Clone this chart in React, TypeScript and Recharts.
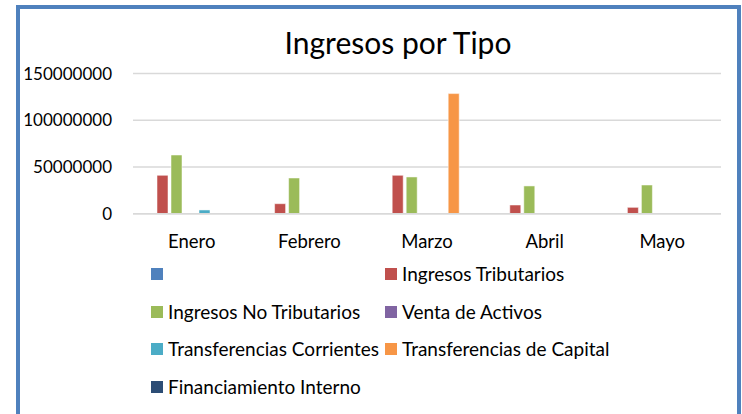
import { Bar, BarChart, CartesianGrid, XAxis, YAxis } from "recharts";

const months = ["Enero", "Febrero", "Marzo", "Abril", "Mayo"];

// values per month, null where there is no bar
const sinNombre = [null, null, null, null, null];
const tributarios = [41100000, 10700000, 41100000, 9300000, 6800000];
const noTributarios = [62800000, 38200000, 39300000, 29700000, 30700000];
const ventaActivos = [null, null, null, null, null];
const corrientes = [4000000, null, null, null, 400000];
const capital = [null, null, 128500000, null, null];
const financiamiento = [null, null, null, null, null];

const yTicks = [0, 50000000, 100000000, 150000000];

const series = [
  { key: "s0", name: "", color: "#4F81BD", values: sinNombre },
  { key: "s1", name: "Ingresos Tributarios", color: "#C0504D", values: tributarios },
  { key: "s2", name: "Ingresos No Tributarios", color: "#9BBB59", values: noTributarios },
  { key: "s3", name: "Venta de Activos", color: "#8064A2", values: ventaActivos },
  { key: "s4", name: "Transferencias Corrientes", color: "#4BACC6", values: corrientes },
  { key: "s5", name: "Transferencias de Capital", color: "#F79646", values: capital },
  { key: "s6", name: "Financiamiento Interno", color: "#2C4D75", values: financiamiento },
];

const data = months.map((m, i) => {
  const row: Record<string, string | number | null> = { month: m };
  series.forEach((s) => {
    row[s.key] = s.values[i];
  });
  return row;
});

const FONT = "Lato, 'Open Sans', sans-serif";

function LegendBlock() {
  return (
    <div>
      {series.map((s, i) => {
        const col = i % 2;
        const row = Math.floor(i / 2);
        return (
          <div
            key={s.key}
            style={{
              position: "absolute",
              left: col === 0 ? 151 : 385,
              top: 274 + row * 37.7 - 12,
              height: 24,
              display: "flex",
              alignItems: "center",
              whiteSpace: "nowrap",
            }}
          >
            <span
              style={{
                display: "inline-block",
                width: 12,
                height: 12,
                background: s.color,
                marginRight: 5,
              }}
            />
            <span style={{ fontSize: 19, color: "#000", lineHeight: "24px" }}>
              {s.name}
            </span>
          </div>
        );
      })}
    </div>
  );
}

export default function App() {
  return (
    <div
      style={{
        position: "absolute",
        left: 0,
        top: 0,
        width: 742,
        height: 414,
        overflow: "hidden",
        background: "#fff",
        fontFamily: FONT,
      }}
    >
      <div
        style={{
          position: "absolute",
          left: 16,
          top: 5,
          width: 725,
          height: 470,
          border: "4px solid #4F81BD",
          boxSizing: "border-box",
        }}
      />
      <div
        style={{
          position: "absolute",
          left: 398,
          top: 27,
          transform: "translateX(-50%)",
          fontSize: 30,
          lineHeight: "30px",
          color: "#000",
          whiteSpace: "nowrap",
        }}
      >
        Ingresos por Tipo
      </div>
      <div style={{ position: "absolute", left: 0, top: 0 }}>
        <BarChart
          width={742}
          height={262}
          data={data}
          margin={{ top: 73.5, right: 21, bottom: 0, left: 0 }}
          barCategoryGap={10}
          barGap={3}
        >
          <CartesianGrid
            vertical={false}
            stroke="#D9D9D9"
            strokeWidth={1.5}
          />
          <XAxis
            dataKey="month"
            height={48.3}
            axisLine={{ stroke: "#D9D9D9", strokeWidth: 1.5 }}
            tickLine={false}
            tickSize={0}
            tickMargin={21}
            tick={{ fill: "#000", fontSize: 18.5, fontFamily: FONT }}
          />
          <YAxis
            width={133}
            domain={[0, 150000000]}
            ticks={yTicks}
            axisLine={false}
            tickLine={false}
            tickSize={0}
            tickMargin={21}
            tick={{ fill: "#000", fontSize: 17, fontFamily: FONT }}
            tickFormatter={(v: number) => `${v}`}
          />
          {series.map((s) => (
            <Bar
              key={s.key}
              dataKey={s.key}
              name={s.name}
              fill={s.color}
              stroke="#FFFFFF"
              strokeOpacity={0.5}
              strokeWidth={1}
              isAnimationActive={false}
            />
          ))}
        </BarChart>
      </div>
      <LegendBlock />
    </div>
  );
}
